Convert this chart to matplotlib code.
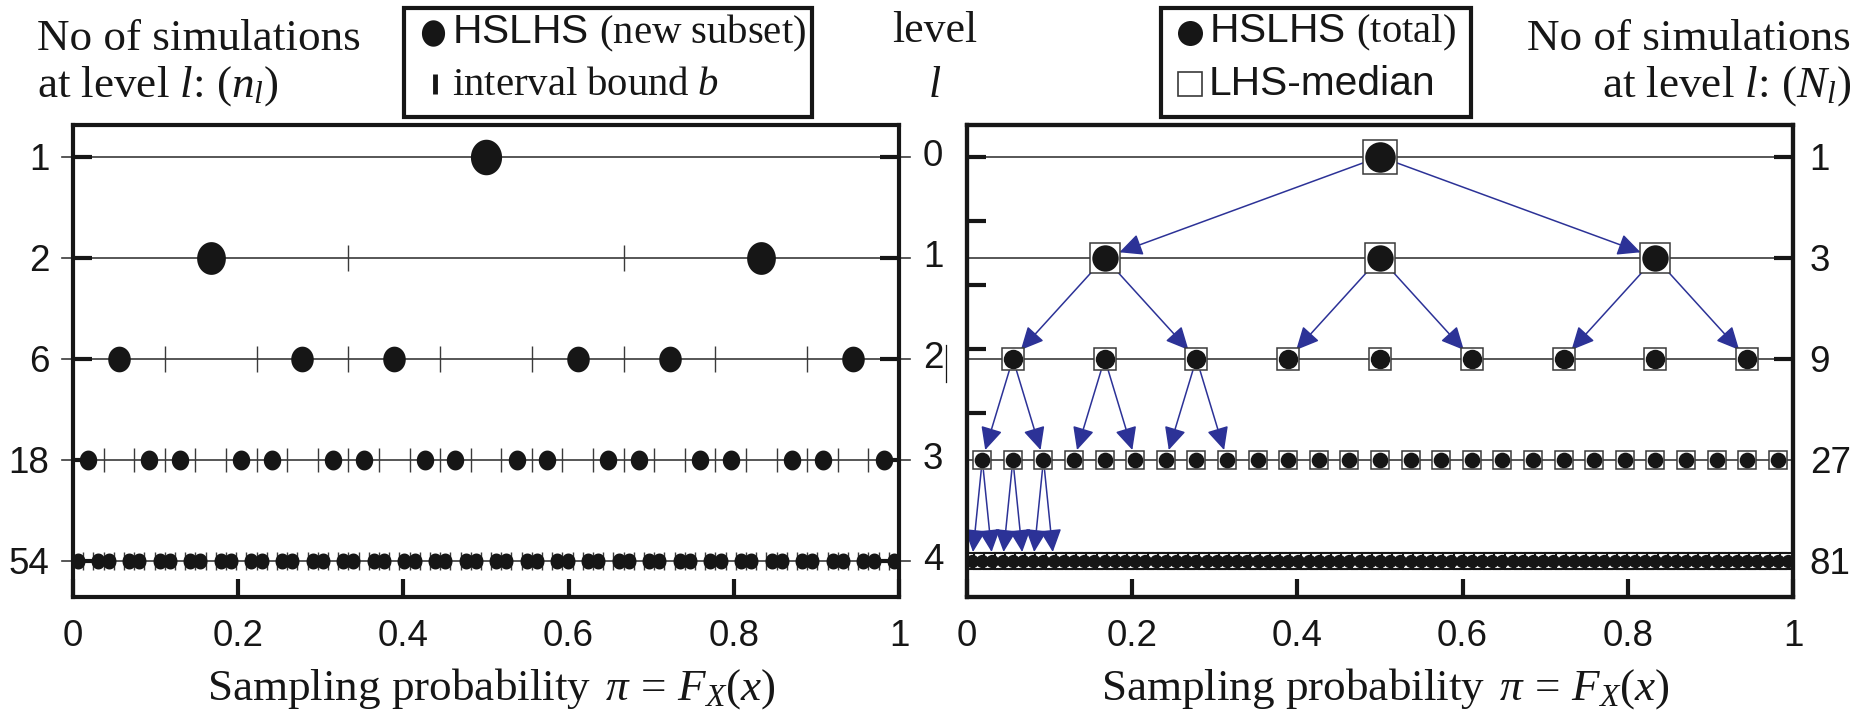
import numpy as np
import matplotlib
matplotlib.use("Agg")
import matplotlib.pyplot as plt
from matplotlib.lines import Line2D
from matplotlib.patches import Rectangle
from matplotlib.path import Path
from matplotlib.transforms import blended_transform_factory

# ---------------------------------------------------------------- data
levels = [0, 1, 2, 3, 4]
strata = [1, 3, 9, 27, 81]                 # equal-probability intervals per level
n_new = [1, 2, 6, 18, 54]                  # simulations added at each level
N_total = [1, 3, 9, 27, 81]                # cumulative simulations at each level

# new-subset sampling probabilities: numerator / denominator
new_den = [2, 6, 18, 54, 162]
new_num = [
    [1],
    [1, 5],
    [1, 5, 7, 11, 13, 17],
    [1, 5, 7, 11, 13, 17, 19, 23, 25, 29, 31, 35, 37, 41, 43, 47, 49, 53],
    [1, 5, 7, 11, 13, 17, 19, 23, 25, 29, 31, 35, 37, 41, 43, 47, 49, 53,
     55, 59, 61, 65, 67, 71, 73, 77, 79, 83, 85, 89, 91, 95, 97, 101, 103, 107,
     109, 113, 115, 119, 121, 125, 127, 131, 133, 137, 139, 143, 145, 149, 151,
     155, 157, 161],
]

# parents whose refinement is traced with arrows (numerator / denominator)
arrow_den = [2, 6, 18, 54]
arrow_num = [[1], [1, 3, 5], [1, 3, 5], [1, 3, 5]]

left_labels = ["1", "2", "6", "18", "54"]
mid_labels = ["0", "1", "2", "3", "4"]
right_labels = ["1", "3", "9", "27", "81"]
x_ticks = [0, 0.2, 0.4, 0.6, 0.8, 1]
x_ticklabels = ["0", "0.2", "0.4", "0.6", "0.8", "1"]
extra_left_ticks = [0, 0.634, 1.268, 1.902, 2.536]

# ---------------------------------------------------------------- derived sets
new_x = [np.array(num) / den for num, den in zip(new_num, new_den)]
total_x = [np.sort(np.concatenate(new_x[:l + 1])) for l in levels]
bounds_x = [np.arange(1, s) / s for s in strata]

# ---------------------------------------------------------------- style
W, H = 1864, 715
SANS = "Liberation Sans"
SERIF = "Liberation Serif"
plt.rcParams["font.family"] = SANS
plt.rcParams["mathtext.fontset"] = "custom"
plt.rcParams["mathtext.rm"] = SERIF
plt.rcParams["mathtext.it"] = SERIF + ":italic"
plt.rcParams["mathtext.bf"] = SERIF + ":bold"

INK = "#161616"
LINE = "#3a3a3a"
BLUE = "#2c3297"
TICKFS = 26.5
SERIFFS = 32.5
LEGFS = 29.3

fig = plt.figure(figsize=(W / 100, H / 100), dpi=100)


def fx(px):
    return px / W


def fy(py):
    return 1 - py / H


ax1 = fig.add_axes([fx(73), fy(597), (899 - 73) / W, (597 - 125) / H])
ax2 = fig.add_axes([fx(967), fy(597), (1793 - 967) / W, (597 - 125) / H])
YLIM = (4.36, -0.314)

# slightly tall ellipse used for the filled sample markers of the left panel
th = np.linspace(0, 2 * np.pi, 73)
ellipse = Path(np.column_stack([np.cos(th) / 1.14, np.sin(th)]), closed=True)

for ax in (ax1, ax2):
    ax.set_xlim(0, 1)
    ax.set_ylim(*YLIM)
    for sp in ax.spines.values():
        sp.set_linewidth(3)
        sp.set_color(INK)
    ax.set_xticks(x_ticks)
    ax.set_xticklabels(x_ticklabels, fontsize=TICKFS, family=SANS)
    ax.tick_params(axis="x", direction="in", length=13, width=3, pad=16,
                   color=INK, labelcolor=INK, top=False)

# ---------------------------------------------------------------- left panel
dot_h = [25.6, 23.6, 18.5, 14.3, 11.5]
bnd_h = [19, 19, 18.5, 17, 13]
for l in levels:
    ax1.plot([-0.013, 1.013], [l, l], color=LINE, lw=1.2, clip_on=False,
             zorder=1)
    if len(bounds_x[l]):
        ax1.plot(bounds_x[l], np.full(len(bounds_x[l]), l), ls="none",
                 marker="|", ms=bnd_h[l], mew=1.0, color=LINE, zorder=2)
    ax1.plot(new_x[l], np.full(n_new[l], l), ls="none", marker=ellipse,
             ms=dot_h[l], color=INK, mec="none", zorder=3)

ax1.set_yticks(levels)
ax1.set_yticklabels(left_labels, fontsize=TICKFS, family=SANS)
ax1.tick_params(axis="y", direction="in", left=True, right=True, length=14,
                width=3, pad=17, color=INK, labelcolor=INK)

# level index between the panels
mid = blended_transform_factory(fig.transFigure, ax1.transData)
for l, lab in zip(levels, mid_labels):
    fig.text(fx(933), l, lab, transform=mid, ha="center", va="center",
             fontsize=TICKFS, family=SANS, color=INK)
fig.add_artist(Line2D([fx(946), fx(946)], [fy(345), fy(382)], color=INK,
                      lw=0.9))

# ---------------------------------------------------------------- right panel
sq_s = [24, 21.6, 16, 13.5, 11.5]
dot_s = [22, 19, 14, 11.3, 9.6]
sq_ew = [1.1, 1.1, 1.1, 1.1, 1.5]
for l in levels:
    ax2.axhline(l, color=LINE, lw=1.2, zorder=1)
    ax2.plot(total_x[l], np.full(N_total[l], l), ls="none", marker="s",
             ms=sq_s[l], mfc="white", mec=LINE if l < 4 else INK,
             mew=sq_ew[l], zorder=3)
    ax2.plot(total_x[l], np.full(N_total[l], l), ls="none", marker="o",
             ms=dot_s[l], color=INK, mec="none", zorder=4)

for l, (nums, den) in enumerate(zip(arrow_num, arrow_den)):
    step = 1 / strata[l + 1]
    for p in np.array(nums) / den:
        for c in (p - step, p + step):
            ax2.annotate("", xy=(c, l + 1), xytext=(p, l),
                         arrowprops=dict(arrowstyle="-|>,head_length=0.5,head_width=0.24",
                                         color=BLUE, lw=1.1,
                                         shrinkA=sq_s[l] / 2 + 1,
                                         shrinkB=sq_s[l + 1] / 2 + 0.5,
                                         mutation_scale=28),
                         zorder=2.5)

ax2.set_yticks(extra_left_ticks)
ax2.set_yticklabels([])
ax2.tick_params(axis="y", direction="in", left=True, right=False, length=14,
                width=3, color=INK)

ax2r = ax2.twinx()
ax2r.set_ylim(*YLIM)
ax2r.set_yticks(levels)
ax2r.set_yticklabels(right_labels, fontsize=TICKFS, family=SANS)
ax2r.tick_params(axis="y", direction="in", length=14, width=3, pad=12,
                 color=INK, labelcolor=INK)
for t in ax2r.yaxis.get_major_ticks()[3:]:
    t.tick2line.set_visible(False)
for sp in ax2r.spines.values():
    sp.set_linewidth(3)
    sp.set_color(INK)

# ---------------------------------------------------------------- axis labels
xlab = r"Sampling probability $\,\pi\,=\,F_X(x)$"
for cx in ((73 + 899) / 2, (967 + 1793) / 2):
    fig.text(fx(cx + 5), fy(700), xlab, ha="center", va="baseline",
             fontsize=SERIFFS, family=SERIF, color=INK)

fig.text(fx(37), fy(50), "No of simulations", ha="left", va="baseline",
         fontsize=SERIFFS, family=SERIF, color=INK)
fig.text(fx(37), fy(97), r"at level $l$: $(n_l)$", ha="left", va="baseline",
         fontsize=SERIFFS, family=SERIF, color=INK)
fig.text(fx(1851), fy(50), "No of simulations", ha="right", va="baseline",
         fontsize=SERIFFS, family=SERIF, color=INK)
fig.text(fx(1851), fy(97), r"at level $l$: $(N_l)$", ha="right",
         va="baseline", fontsize=SERIFFS, family=SERIF, color=INK)
fig.text(fx(935), fy(42), "level", ha="center", va="baseline",
         fontsize=31.5, family=SERIF, color=INK)
fig.text(fx(935), fy(97), r"$l$", ha="center", va="baseline",
         fontsize=31.5, family=SERIF, color=INK)

# ---------------------------------------------------------------- legends
def box(x0, x1, y0, y1):
    fig.add_artist(Rectangle((fx(x0), fy(y1)), (x1 - x0) / W, (y1 - y0) / H,
                             transform=fig.transFigure, fill=False, lw=3,
                             ec=INK))


box(404, 812, 8, 117)
fig.add_artist(Line2D([fx(433)], [fy(33)], ls="none", marker=ellipse, ms=19,
                      color=INK, mec="none"))
fig.text(fx(452), fy(33), r"HSLHS $\mathrm{(new\ subset)}$", ha="left",
         va="center", fontsize=LEGFS, family=SANS, color=INK)
fig.add_artist(Line2D([fx(435)], [fy(84)], ls="none", marker="|", ms=15,
                      mew=3.5, color=INK))
fig.text(fx(452), fy(84), r"$\mathrm{interval\ bound}\ b$", ha="left",
         va="center", fontsize=LEGFS, color=INK)

box(1161, 1471, 8, 117)
fig.add_artist(Line2D([fx(1190)], [fy(33)], ls="none", marker="o", ms=18,
                      color=INK, mec="none"))
fig.text(fx(1209), fy(33), r"HSLHS $\mathrm{(total)}$", ha="left",
         va="center", fontsize=LEGFS, family=SANS, color=INK)
fig.add_artist(Line2D([fx(1190)], [fy(84)], ls="none", marker="s", ms=17,
                      mfc="white", mec=LINE, mew=1.2))
fig.text(fx(1209), fy(84), "LHS-median", ha="left", va="center",
         fontsize=LEGFS, family=SANS, color=INK)

fig.savefig("out.png", dpi=100)
